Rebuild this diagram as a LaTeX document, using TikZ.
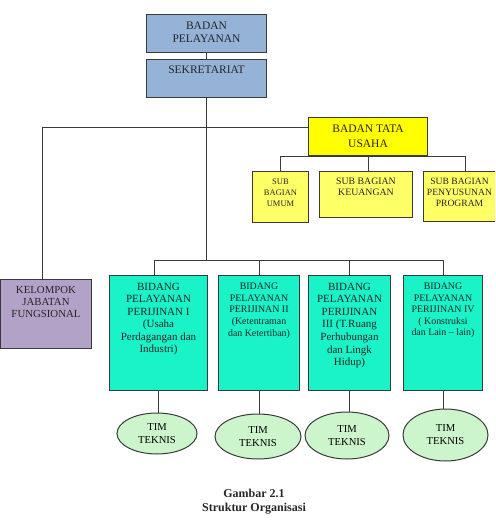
\documentclass[tikz,border=0pt]{standalone}
\usepackage{fontspec}
\setmainfont{Liberation Serif}
\usetikzlibrary{shapes.geometric}
\definecolor{cline}{HTML}{3A3A3A}
\definecolor{cblue}{HTML}{95B3D7}
\definecolor{cyel}{HTML}{FFFF00}
\definecolor{cyel2}{HTML}{FFFF66}
\definecolor{cpurp}{HTML}{B3A2C7}
\definecolor{caqua}{HTML}{1AF2C8}
\definecolor{cgreen}{HTML}{CCF5CC}
\newcommand\myfs[2]{\fontsize{#1}{#2}\selectfont}
\tikzset{
  box/.style={draw=cline, line width=1pt, inner sep=0pt, anchor=north west},
  txt/.style={anchor=north, inner sep=0pt, align=center, text=black!85},
  conn/.style={draw=cline, line width=0.9pt},
  tim/.style={ellipse, draw=cline, line width=1pt, fill=cgreen, inner sep=0pt, align=center, font=\myfs{10.6}{13}}
}
\begin{document}
\begin{tikzpicture}[x=1pt,y=-1pt]
\useasboundingbox (0,0) rectangle (495,527);
\clip (0,0) rectangle (495,527);
% boxes
\node[box, fill=cblue, minimum width=120pt, minimum height=38pt] (bp) at (146,14) {};
\node[box, fill=cblue, minimum width=120pt, minimum height=38pt] (sek) at (146,59) {};
\node[box, fill=cyel, minimum width=119pt, minimum height=38pt] (bta) at (308,117) {};
\node[box, fill=cyel2, minimum width=56pt, minimum height=51pt] (s1) at (252,171) {};
\node[box, fill=cyel2, minimum width=93pt, minimum height=46pt] (s2) at (319,171) {};
\node[box, fill=cyel2, minimum width=84pt, minimum height=50pt] (s3) at (423,171) {};
\node[box, fill=cpurp, minimum width=91pt, minimum height=69pt] (kel) at (0,279) {};
\node[box, fill=caqua, minimum width=98pt, minimum height=115pt] (b1) at (109,275) {};
\node[box, fill=caqua, minimum width=81pt, minimum height=115pt] (b2) at (218,275) {};
\node[box, fill=caqua, minimum width=82pt, minimum height=115pt] (b3) at (308,275) {};
\node[box, fill=caqua, minimum width=79pt, minimum height=115pt] (b4) at (403,275) {};
% ellipses
\node[tim, minimum width=80pt, minimum height=41pt] (t1) at (157,433.5) {TIM\\TEKNIS};
\node[tim, minimum width=86pt, minimum height=45pt] (t2) at (258,436.5) {TIM\\TEKNIS};
\node[tim, minimum width=84pt, minimum height=47pt] (t3) at (347,435.5) {TIM\\TEKNIS};
\node[tim, minimum width=85pt, minimum height=52pt] (t4) at (445.5,435) {TIM\\TEKNIS};
% texts
\node[txt, font=\myfs{11.5}{12.7}] (bpt) at ([yshift=-7.7pt]bp.north) {BADAN\\PELAYANAN};
\node[txt, font=\myfs{11.5}{12.7}] (sekt) at ([yshift=-6.7pt]sek.north) {SEKRETARIAT};
\node[txt, font=\myfs{11.5}{14.3}] (btat) at ([yshift=-8pt]bta.north) {BADAN TATA\\USAHA};
\node[txt, font=\myfs{8.5}{11}] (s1t) at ([yshift=-8pt]s1.north) {SUB\\BAGIAN\\UMUM};
\node[txt, font=\myfs{9.8}{11.3}] (s2t) at ([yshift=-6.7pt]s2.north) {SUB BAGIAN\\KEUANGAN};
\node[txt, font=\myfs{9.6}{11.3}] (s3t) at ([yshift=-6.7pt,xshift=-6pt]s3.north) {SUB BAGIAN\\PENYUSUNAN\\PROGRAM};
\node[txt, font=\myfs{10.8}{12.3}] (kelt) at ([yshift=-7pt]kel.north) {KELOMPOK\\JABATAN\\FUNGSIONAL};
\node[txt, font=\myfs{11}{12.5}] (b1t) at ([yshift=-7.7pt]b1.north) {BIDANG\\PELAYANAN\\PERIJINAN I\\(Usaha\\Perdagangan dan\\Industri)};
\node[txt, font=\myfs{9.9}{11.7}] (b2t) at ([yshift=-7.7pt]b2.north) {BIDANG\\PELAYANAN\\PERIJINAN II\\(Ketentraman\\dan Ketertiban)};
\node[txt, font=\myfs{11}{12.6}] (b3t) at ([yshift=-7.7pt]b3.north) {BIDANG\\PELAYANAN\\PERIJINAN\\III (T.Ruang\\Perhubungan\\dan Lingk\\Hidup)};
\node[txt, font=\myfs{9.9}{11.6}] (b4t) at ([yshift=-7.7pt]b4.north) {BIDANG\\PELAYANAN\\PERIJINAN IV\\( Konstruksi\\dan Lain – lain)};
\node[txt, font=\bfseries\myfs{12}{14}] (cap) at (254,489) {Gambar 2.1\\Struktur Organisasi};
% connectors
\coordinate (h1) at (0,127);
\coordinate (hb) at (0,260);
\draw[conn] (bp.south) -- (sek.north);
\draw[conn] (sek.south) -- (sek.south |- hb);
\draw[conn] ([xshift=-3.5pt]kel.north) -- ([xshift=-3.5pt]kel.north |- h1) -- (bta.west |- h1);
\draw[conn] ([xshift=-4pt]b1.north |- hb) -- (b4.north |- hb);
\draw[conn] ([xshift=-4pt]b1.north |- hb) -- ([xshift=-4pt]b1.north);
\draw[conn] (b2.north |- hb) -- (b2.north);
\draw[conn] (b3.north |- hb) -- (b3.north);
\draw[conn] (b4.north |- hb) -- (b4.north);
\draw[conn] (s1.north |- bta.south) -- (s3.north |- bta.south);
\draw[conn] (s1.north |- bta.south) -- (s1.north);
\draw[conn] (s3.north |- bta.south) -- (s3.north);
\draw[conn] (bta.south) -- (bta.south |- s2.north);
\draw[conn] (b1.south) -- (b1.south |- t1.north);
\draw[conn] (b2.south) -- (b2.south |- t2.north);
\draw[conn] (b3.south) -- (b3.south |- t3.north);
\draw[conn] (b4.south) -- (b4.south |- t4.north);
\end{tikzpicture}
\end{document}
